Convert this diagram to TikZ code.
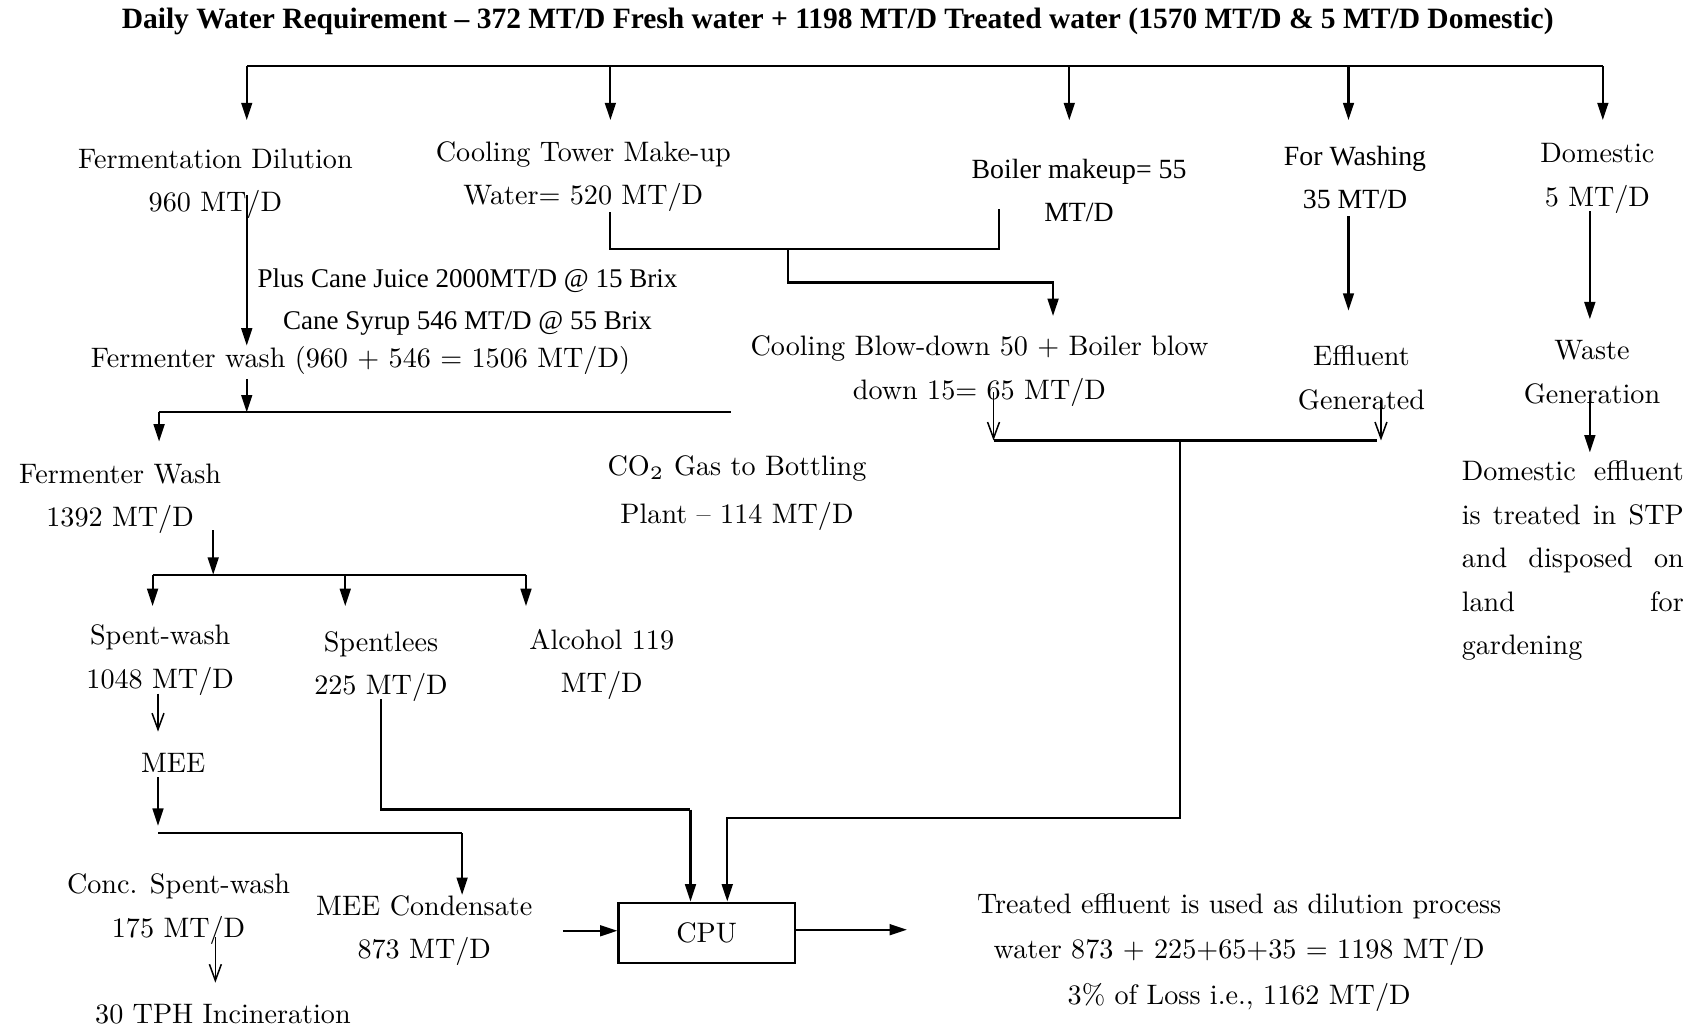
\documentclass[tikz,border=0pt]{standalone}
\usepackage{fontspec}
\setmainfont{lmroman10-regular.otf}
\newfontfamily\tnr{Liberation Serif}
\usetikzlibrary{arrows.meta}

\begin{document}
\begin{tikzpicture}[x=0.01cm,y=-0.01cm,
        lbl/.style={inner sep=0pt,align=center,font=\fontsize{7.4}{11.4}\selectfont},
        tlbl/.style={inner sep=0pt,align=center,font=\tnr\fontsize{7.3}{11.2}\selectfont},
        pipe/.style={line width=0.55pt},
        flow/.style={pipe,-{Triangle[length=1.6mm,width=1mm]}},
        thinarr/.style={line width=0.4pt,-{Straight Barb[length=1.5mm,width=1.1mm]}}]
        \useasboundingbox (0,0) rectangle (1568,951);

        \node[inner sep=0pt,font=\tnr\bfseries\fontsize{7.75}{9}\selectfont] (title) at (774,20)
            {Daily Water Requirement – 372 MT/D Fresh water + 1198 MT/D Treated water (1570 MT/D \& 5 MT/D Domestic)};

        % first row
        \node[lbl] (fdil) at (199,170) {Fermentation Dilution\\960 MT/D};
        \node[lbl] (ctower) at (539,163) {Cooling Tower Make-up\\Water= 520 MT/D};
        \node[tlbl] (boiler) at (997,176) {Boiler makeup= 55\\MT/D};
        \node[tlbl] (wash) at (1252,164) {For Washing\\35 MT/D};
        \node[lbl] (dom) at (1476,165) {Domestic\\5 MT/D};

        \coordinate (t1) at (228,61);
        \coordinate (t2) at (564,61);
        \coordinate (t3) at (988,61);
        \coordinate (t4) at (1246,61);
        \coordinate (t5) at (1481,61);
        \draw[pipe] (t1) -- (t5);
        \foreach \t in {t1,t2,t3,t4,t5}
            \draw[flow] (\t) -- ++(0,50);

        % second row
        \node[tlbl,font=\tnr\fontsize{7.1}{11.2}\selectfont] (juice) at (432,279)
            {Plus Cane Juice 2000MT/D @ 15 Brix\\Cane Syrup 546 MT/D @ 55 Brix};
        \node[lbl] (fwash) at (333,333) {Fermenter wash (960 + 546 = 1506 MT/D)};
        \node[lbl] (blow) at (905,343) {Cooling Blow-down 50 + Boiler blow\\down 15= 65 MT/D};
        \node[lbl] (effl) at (1258,349) {Effluent\\Generated};
        \node[lbl] (waste) at (1471,344) {Waste\\Generation};
        \node[lbl,align=left,anchor=west] (stp) at (1350,518) {%
            \makebox[2.05cm][s]{Domestic effluent}\\
            \makebox[2.05cm][s]{is treated in STP}\\
            \makebox[2.05cm][s]{and disposed on}\\
            \makebox[2.05cm][s]{land for}\\
            gardening};

        \coordinate (fd) at (228,180);
        \draw[flow] (fd) -- (fd |- fwash.north);
        \coordinate (ct) at (564,196);
        \coordinate (bl) at (923,193);
        \coordinate (mrg) at (728,230);
        \draw[pipe] (ct) |- (mrg) -| (bl);
        \draw[flow] (mrg) |- ++(245,31) -- ++(0,31);
        \draw[flow] (1246,200) -- (1246,287);
        \draw[flow] (1469,195) -- (1469,295);
        \draw[flow] (1469,365) -- (1469,418);

        % blow-down and washing effluent to CPU
        \coordinate (b1) at (918,407);
        \coordinate (b2) at (1276,407);
        \coordinate (bm) at (1090,407);
        \draw[thinarr] (918,362) -- (b1);
        \draw[thinarr] (1276,370) -- (b2);
        \draw[pipe] (b1) -- (1272,407);

        % fermenter
        \node[lbl] (fwash2) at (111,461) {Fermenter Wash\\1392 MT/D};
        \node[lbl] (co2) at (681,456) {CO$_2$ Gas to Bottling\\[1.2pt]Plant – 114 MT/D};
        \coordinate (f1) at (147,381);
        \draw[flow] (228,350) -- (228,381);
        \draw[pipe] (f1) -- (675,381);
        \draw[flow] (f1) -- ++(0,27);

        \node[lbl] (spwash) at (148,610) {Spent-wash\\1048 MT/D};
        \node[lbl] (slees) at (352,616) {Spentlees\\225 MT/D};
        \node[lbl] (alc) at (556,614) {Alcohol 119\\MT/D};
        \coordinate (d1) at (141,531);
        \coordinate (d2) at (319,531);
        \coordinate (d3) at (486,531);
        \draw[flow] (197,490) -- (197,531);
        \draw[pipe] (d1) -- (d3);
        \foreach \d in {d1,d2,d3}
            \draw[flow] (\d) -- ++(0,29);

        % evaporation
        \node[lbl] (mee) at (160,705) {MEE};
        \node[lbl] (conc) at (165,840) {Conc. Spent-wash\\175 MT/D};
        \node[lbl] (incin) at (206,937) {30 TPH Incineration};
        \node[lbl] (cond) at (392,860) {MEE Condensate\\873 MT/D};
        \draw[thinarr] (146,641) -- (146,676);
        \draw[flow] (146,718) -- (146,763);
        \coordinate (m1) at (146,770);
        \coordinate (m2) at (427,770);
        \draw[pipe] (m1) -- (m2);
        \draw[flow] (m2) -- (m2 |- cond.north);
        \draw[thinarr] (199,866) -- (199,908);

        % treatment
        \node[draw,line width=0.55pt,minimum width=1.63cm,minimum height=0.56cm,
            font=\fontsize{7.4}{9}\selectfont] (cpu) at (653,862) {CPU};
        \node[lbl] (treat) at (1145,880) {Treated effluent is used as dilution process\\[0.6pt]
            water 873 + 225+65+35 = 1198 MT/D\\[0.6pt]3\% of Loss i.e., 1162 MT/D};
        \coordinate (s1) at (638,748);
        \draw[pipe] (352,646) |- (s1);
        \draw[flow] (s1) -- (cpu.north -| s1);
        \draw[flow] (bm) |- (672,756) -- (cpu.north -| 672,0);
        \draw[flow] (520,860) -- (cpu.west |- 0,860);
        \draw[flow] (cpu.east |- 0,859) -- (838,859);
\end{tikzpicture}
\end{document}
